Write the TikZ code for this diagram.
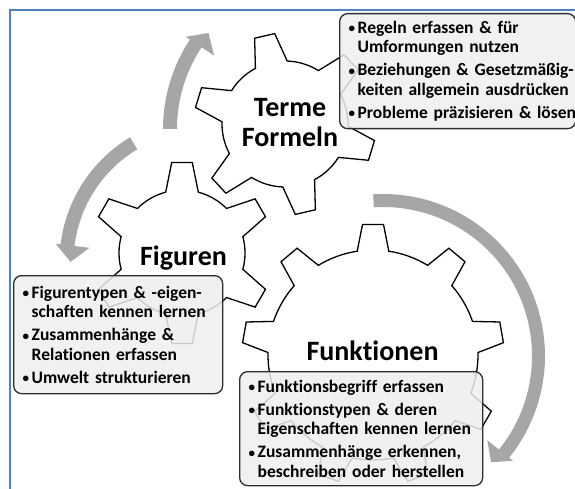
\documentclass[tikz,border=0pt]{standalone}
\usepackage{fontspec}
\setmainfont{Carlito}[Ligatures=NoCommon]
\usetikzlibrary{positioning,calc}

\definecolor{framebl}{RGB}{79,129,189}
\definecolor{arrowgr}{RGB}{166,166,166}
\definecolor{boxgr}{RGB}{238,238,238}
\definecolor{boxln}{RGB}{45,45,45}

\tikzset{
  gearline/.style={draw=black, line width=1.3pt, fill=white, line join=miter},
  textbox/.style={draw=boxln, line width=1.3pt, rounded corners=8pt, fill=boxgr,
    fill opacity=0.85, text opacity=1, align=left, inner xsep=9pt, inner ysep=0pt,
    anchor=north west, font=\fontsize{17.5}{19.5}\selectfont\bfseries},
  gearlabel/.style={font=\fontsize{28}{30}\selectfont\bfseries, align=center, inner sep=0pt},
}

% bullet and hanging indent
\newcommand{\bul}{\makebox[9pt][l]{\raisebox{0.6pt}{\fontsize{13}{13}\selectfont\textbullet}}}
\newcommand{\ind}{\hspace*{9pt}}

% cog: centre, teeth, inner r, outer r, tip half angle, base half angle, first tooth
\newcommand{\cogwheel}[7]{%
  \pgfmathsetmacro{\gstep}{360/#2}
  \draw[gearline, shift={(#1)}] ({#7-#6}:#3)
    \foreach \k [evaluate=\k as \tang using {#7+(\k-1)*\gstep}] in {1,...,#2}{
      -- ({\tang-#5}:#4) -- ({\tang+#5}:#4) -- ({\tang+#6}:#3)
      arc[start angle={\tang+#6}, end angle={\tang+\gstep-#6}, radius=#3pt]
    } -- cycle;
}

% round arrow: centre, inner r, outer r, start, base of head, tip
\newcommand{\roundarrow}[6]{%
  \fill[arrowgr, shift={(#1)}] (#4:#3) arc[start angle=#4, end angle=#5, radius=#3pt]
    -- (#5:{#3+5}) -- (#6:{(#2+#3)/2-4}) -- (#5:{#2-15}) -- (#5:#2)
    arc[start angle=#5, end angle=#4, radius=#2pt] -- cycle;
}

\begin{document}
\begin{tikzpicture}[x=1pt,y=1pt]
    \useasboundingbox (0,0) rectangle (575,488);
    \clip (0,0) rectangle (575,488);
    \draw[framebl, line width=2.5pt] (10,-5) -- (10,478) -- (585,478);

    \coordinate (arrT) at (325,359);
    \coordinate (arrF) at (205,226);
    \coordinate (arrK) at (383,132);
    \roundarrow{arrT}{148}{162}{180}{146.5}{140.5}
    \roundarrow{arrF}{131.5}{145.5}{121}{173}{180}
    \roundarrow{arrK}{149}{162}{93.5}{-38.9}{-44.5}

    \coordinate (terme) at (285,364);
    \coordinate (figur) at (182,235);
    \coordinate (funkt) at (373,133);
    \cogwheel{terme}{6}{63}{91}{6.5}{15}{43}
    \cogwheel{figur}{6}{63}{91}{6.5}{15}{30}
    \cogwheel{funkt}{9}{105}{131}{4.6}{8.65}{10}

    \node[gearlabel] (termelbl) at (290,365) {Terme\\Formeln};
    \node[gearlabel, anchor=base] (figlbl) at (183.5,223) {Figuren};
    \node[gearlabel, anchor=base] (funklbl) at (372.5,128) {Funktionen};

    \node[textbox, minimum width=236pt, minimum height=115pt, text width=218pt] (termebox) at (339,475)
      {\bul Regeln erfassen \& für\\
       \ind Umformungen nutzen\\[3.5pt]
       \bul \mbox{Beziehungen \& Gesetzmäßig-}\\
       \ind \mbox{keiten allgemein ausdrücken}\\[3.5pt]
       \bul \mbox{Probleme präzisieren \& lösen}};
    \node[textbox, minimum width=209pt, minimum height=118pt, text width=191pt] (figbox) at (13,213)
      {\bul Figurentypen \& -eigen-\\
       \ind schaften kennen lernen\\[3.5pt]
       \bul Zusammenhänge \&\\
       \ind Relationen erfassen\\[3.5pt]
       \bul Umwelt strukturieren};
    \node[textbox, minimum width=243pt, minimum height=114pt, text width=225pt] (funkbox) at (239,117)
      {\bul Funktionsbegriff erfassen\\[3.5pt]
       \bul Funktionstypen \& deren\\
       \ind Eigenschaften kennen lernen\\[3.5pt]
       \bul Zusammenhänge erkennen,\\
       \ind beschreiben oder herstellen};
\end{tikzpicture}
\end{document}
